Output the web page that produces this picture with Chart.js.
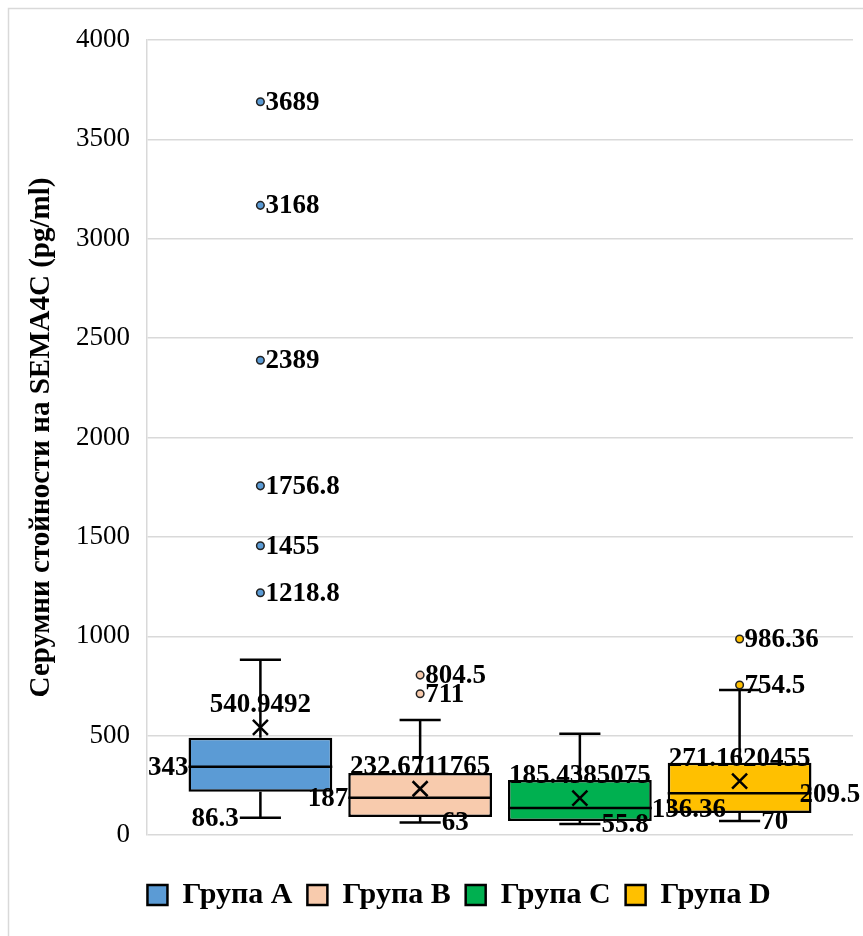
<!DOCTYPE html>
<html>
<head>
<meta charset="utf-8">
<script src="https://cdn.jsdelivr.net/npm/chart.js@4.4.0/dist/chart.umd.min.js"></script>
<style>
  html, body { margin: 0; padding: 0; background: #fff; }
  canvas { display: block; }
</style>
</head>
<body>
<canvas id="chart" width="863" height="936"></canvas>
<script>
// SEMA4C serum values per group, box-and-whisker summary
const groups = ['Група A', 'Група B', 'Група C', 'Група D'];
const mins = [86.3, 63, 55.8, 70];
const q1s = [217, 91, 70, 111];
const medians = [343, 187, 136.36, 209.5];
const q3s = [489, 312, 277, 363];
const maxs = [882, 579, 509, 730];
const means = [540.9492, 232.6711765, 185.4385075, 271.1620455];
const outliers = [
  [1218.8, 1455, 1756.8, 2389, 3168, 3689],
  [711, 804.5],
  [],
  [754.5, 986.36]
];

const colors = ['#5b9bd5', '#f8cbad', '#00b050', '#ffc000'];
// which side of the box the median / minimum labels sit on
const medianSide = ['left', 'left', 'right', 'right'];
const medianNudge = [0, 0, 0, -12];
const minSide = ['left', 'right', 'right', 'right'];

const serif = '"Liberation Serif", "Times New Roman", serif';
const labelFont = 'bold 27px ' + serif;

const frame = {
  id: 'frame',
  beforeDraw(chart) {
    const ctx = chart.ctx;
    ctx.save();
    ctx.fillStyle = '#fff';
    ctx.fillRect(0, 0, chart.width, chart.height);
    ctx.strokeStyle = '#d9d9d9';
    ctx.lineWidth = 1.5;
    ctx.beginPath();
    ctx.moveTo(8.5, chart.height);
    ctx.lineTo(8.5, 8.5);
    ctx.lineTo(chart.width, 8.5);
    ctx.stroke();
    ctx.restore();
  }
};

const boxWhisker = {
  id: 'boxWhisker',
  afterDatasetsDraw(chart) {
    const ctx = chart.ctx;
    const y = chart.scales.y;
    ctx.save();
    chart.data.datasets.forEach((ds, i) => {
      const bar = chart.getDatasetMeta(i).data[0];
      const cx = bar.x;
      const half = bar.width / 2;
      const cap = bar.width * 0.143;
      ctx.strokeStyle = '#000';
      ctx.lineWidth = 2.5;

      // whiskers
      ctx.beginPath();
      ctx.moveTo(cx, y.getPixelForValue(q3s[i]));
      ctx.lineTo(cx, y.getPixelForValue(maxs[i]));
      ctx.moveTo(cx - cap, y.getPixelForValue(maxs[i]));
      ctx.lineTo(cx + cap, y.getPixelForValue(maxs[i]));
      ctx.moveTo(cx, y.getPixelForValue(q1s[i]));
      ctx.lineTo(cx, y.getPixelForValue(mins[i]));
      ctx.moveTo(cx - cap, y.getPixelForValue(mins[i]));
      ctx.lineTo(cx + cap, y.getPixelForValue(mins[i]));
      ctx.stroke();

      // median
      const my = y.getPixelForValue(medians[i]);
      ctx.beginPath();
      ctx.moveTo(cx - half, my);
      ctx.lineTo(cx + half, my);
      ctx.stroke();

      // mean marker
      const ay = y.getPixelForValue(means[i]);
      ctx.beginPath();
      ctx.moveTo(cx - 7.5, ay - 7.5);
      ctx.lineTo(cx + 7.5, ay + 7.5);
      ctx.moveTo(cx + 7.5, ay - 7.5);
      ctx.lineTo(cx - 7.5, ay + 7.5);
      ctx.stroke();

      // outliers
      ctx.lineWidth = 1.5;
      ctx.strokeStyle = '#222';
      ctx.fillStyle = colors[i];
      outliers[i].forEach(v => {
        ctx.beginPath();
        ctx.arc(cx, y.getPixelForValue(v), 3.8, 0, Math.PI * 2);
        ctx.fill();
        ctx.stroke();
      });

      // value labels
      ctx.fillStyle = '#000';
      ctx.font = labelFont;
      ctx.textBaseline = 'middle';

      ctx.textAlign = 'center';
      ctx.fillText(String(means[i]), cx, ay - 22);

      if (medianSide[i] === 'left') {
        ctx.textAlign = 'right';
        ctx.fillText(String(medians[i]), cx - half, my + 1);
      } else {
        ctx.textAlign = 'left';
        ctx.fillText(String(medians[i]), cx + half + medianNudge[i], my + 2);
      }

      const ly = y.getPixelForValue(mins[i]);
      if (minSide[i] === 'left') {
        ctx.textAlign = 'right';
        ctx.fillText(String(mins[i]), cx - cap - 1, ly + 1);
      } else {
        ctx.textAlign = 'left';
        ctx.fillText(String(mins[i]), cx + cap + 1, ly + 1);
      }

      ctx.textAlign = 'left';
      outliers[i].forEach(v => {
        ctx.fillText(String(v), cx + 5, y.getPixelForValue(v) + 1);
      });
    });
    ctx.restore();
  }
};

new Chart(document.getElementById('chart'), {
  type: 'bar',
  data: {
    labels: [''],
    datasets: groups.map((g, i) => ({
      label: g,
      data: [[q1s[i], q3s[i]]],
      backgroundColor: colors[i],
      borderColor: '#000',
      borderWidth: 2.5,
      borderSkipped: false,
      barPercentage: 0.9,
      categoryPercentage: 0.905
    }))
  },
  options: {
    responsive: false,
    animation: false,
    devicePixelRatio: 1,
    layout: { padding: { left: 65, right: 10, top: 40, bottom: 16 } },
    plugins: {
      tooltip: { enabled: false },
      legend: {
        position: 'bottom',
        labels: {
          boxWidth: 20,
          boxHeight: 20,
          padding: 15,
          color: '#000',
          font: { family: serif, size: 30, weight: 'bold' }
        }
      }
    },
    scales: {
      x: {
        grid: { display: false },
        border: { display: false },
        ticks: { display: false },
        afterFit(scale) { scale.height = 30; }
      },
      y: {
        min: 0,
        max: 4000,
        ticks: {
          stepSize: 500,
          padding: 17,
          color: '#000',
          font: { family: serif, size: 27 },
          callback: (v) => String(v)
        },
        grid: { color: '#d9d9d9', lineWidth: 1.5, drawTicks: false },
        border: { display: true, color: '#d9d9d9', width: 1.5 },
        title: {
          display: true,
          text: 'Серумни стойности на SEMA4C (pg/ml)',
          color: '#000',
          padding: { top: -41, bottom: 0 },
          font: { family: serif, size: 29, weight: 'bold' }
        },
        afterFit(scale) { scale.width = 82; }
      }
    }
  },
  plugins: [frame, boxWhisker]
});
</script>
</body>
</html>
